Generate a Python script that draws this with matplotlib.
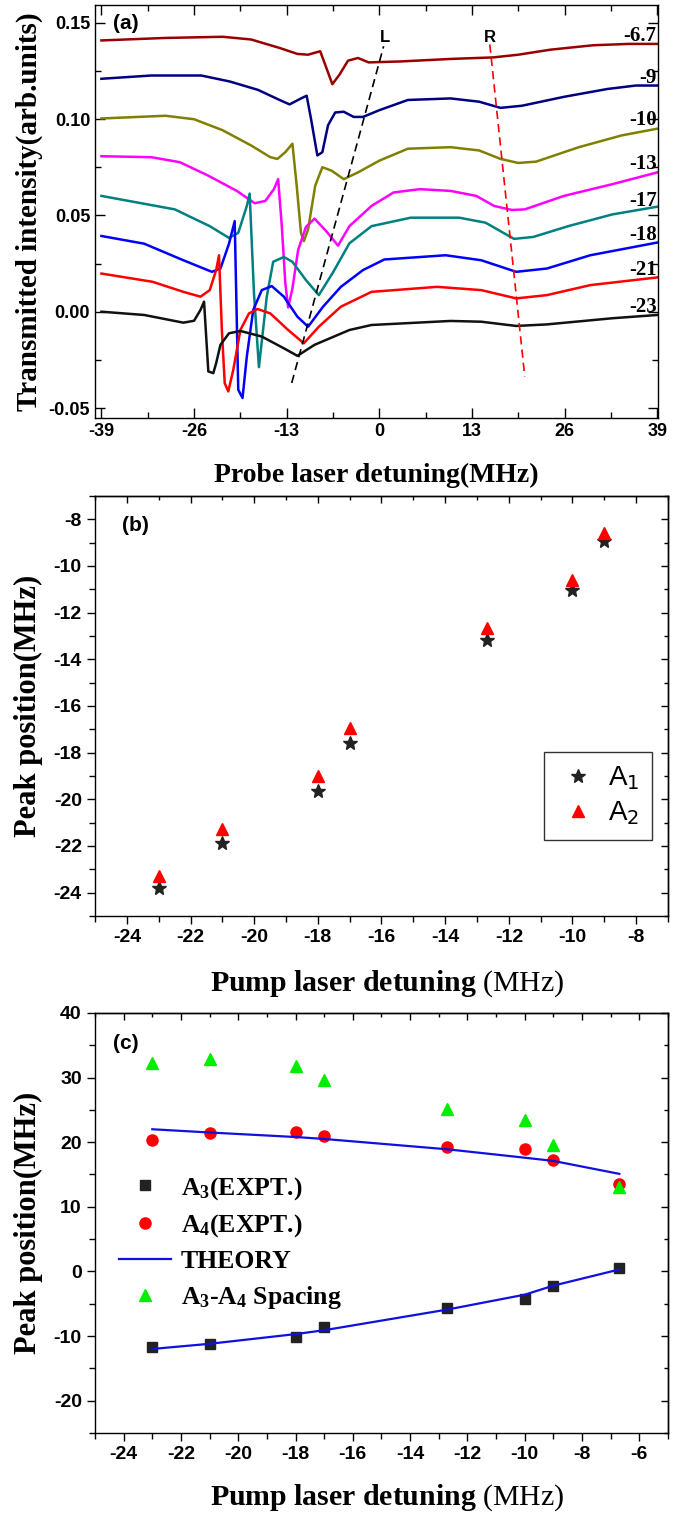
import matplotlib
matplotlib.use("Agg")
import matplotlib.pyplot as plt
from matplotlib.ticker import MultipleLocator, FormatStrFormatter

plt.rcParams["axes.unicode_minus"] = False
plt.rcParams["mathtext.fontset"] = "custom"
plt.rcParams["mathtext.rm"] = "Liberation Serif"
plt.rcParams["mathtext.bf"] = "Liberation Serif:bold"
plt.rcParams["mathtext.it"] = "Liberation Serif:italic"

SANS = "Liberation Sans"
SERIF = "Liberation Serif"

# ---------------- panel (a): probe transmission for each pump detuning ----------------
pump_labels = ["-6.7", "-9", "-10", "-13", "-17", "-18", "-21", "-23"]
trace_colors = ["#990000", "#000080", "#808000", "#ff00ff",
                "#008080", "#0000ff", "#ff0000", "#111111"]
label_y = [0.1431, 0.1211, 0.0994, 0.0767, 0.0575, 0.0397, 0.0216, 0.0026]

x_m67 = [-39, -30, -22, -18, -14, -11.5, -10, -8.3, -7.6, -6.6, -5.6, -4.4, -3.0, -1.5,
         3, 10, 16, 19.5, 24, 30, 35, 39]
y_m67 = [0.1408, 0.1421, 0.1427, 0.1413, 0.1369, 0.1338, 0.1334, 0.1352, 0.1282, 0.1181,
         0.1230, 0.1303, 0.1317, 0.1294, 0.1299, 0.1312, 0.1320, 0.1334, 0.1360, 0.1383,
         0.1390, 0.1390]

x_m9 = [-39, -32, -25, -21, -17, -14, -12.6, -11, -10.2, -9.6, -8.7, -8.0, -7.2, -6.2, -5.0,
        -3.6, -2.3, 0, 4, 10, 14, 17, 20, 26, 32, 36, 39]
y_m9 = [0.1209, 0.1226, 0.1226, 0.1195, 0.1151, 0.1099, 0.1076, 0.1107, 0.1121, 0.1003,
        0.0811, 0.0828, 0.0968, 0.1034, 0.1038, 0.1011, 0.1011, 0.1046, 0.1099, 0.1107,
        0.1090, 0.1058, 0.1069, 0.1116, 0.1156, 0.1174, 0.1174]

x_m10 = [-39, -30, -26, -22, -18, -15.3, -14.3, -13.2, -12.2, -11.6, -11, -10.6, -10, -9,
         -8, -6.7, -5, -3, 0, 4, 10, 14, 17, 19.5, 22, 28, 34, 39]
y_m10 = [0.1003, 0.1017, 0.0999, 0.0942, 0.0863, 0.0802, 0.0793, 0.0828, 0.0872, 0.0654,
         0.0409, 0.0366, 0.0427, 0.0654, 0.0750, 0.0732, 0.0688, 0.0723, 0.0784, 0.0846,
         0.0854, 0.0837, 0.0793, 0.0772, 0.0779, 0.0854, 0.0915, 0.0950]

x_m13 = [-39, -32, -28, -24, -20, -17.5, -16, -14.8, -14.2, -13.7, -13.2, -12.8, -12.2,
         -11.4, -10.3, -9.1, -7.5, -5.8, -4.2, -1.1, 2, 5.7, 10, 13.6, 16.1, 18.6, 20.4,
         25.9, 32.7, 39]
y_m13 = [0.0807, 0.0802, 0.0776, 0.0706, 0.0627, 0.0563, 0.0575, 0.0636, 0.0688, 0.0450,
         0.0150, 0.0022, 0.0120, 0.0320, 0.0440, 0.0483, 0.0420, 0.0343, 0.0444, 0.0549,
         0.0619, 0.0636, 0.0627, 0.0601, 0.0549, 0.0528, 0.0531, 0.0601, 0.0662, 0.0723]

x_m17 = [-39, -28.7, -23.8, -21.1, -19.8, -18.6, -18.2, -17.6, -16.9, -15.8, -14.9, -13.4,
         -12.2, -10.3, -8.5, -6.6, -4.2, -1.1, 4.4, 11.2, 14.9, 18.9, 21.6, 26.5, 32.7, 39]
y_m17 = [0.0601, 0.0531, 0.0444, 0.0383, 0.0409, 0.0549, 0.0613, 0.0100, -0.0288, 0.0078,
         0.0259, 0.0284, 0.0259, 0.0164, 0.0086, 0.0198, 0.0355, 0.0444, 0.0488, 0.0488,
         0.0462, 0.0378, 0.0388, 0.0444, 0.0505, 0.0545]

x_m18 = [-39, -33, -27.5, -23.5, -22.3, -21.1, -20.3, -19.8, -19.2, -18.6, -17.7, -16.5,
         -15.1, -13.4, -11.5, -10, -7.9, -5.4, -2.3, 0.7, 9.3, 14.3, 19.2, 23.5, 29.6, 39]
y_m18 = [0.0393, 0.0353, 0.0267, 0.0207, 0.0224, 0.0353, 0.0470, -0.0405, -0.0448, -0.0233,
         0.0009, 0.0112, 0.0133, 0.0078, -0.0026, -0.0078, 0.0026, 0.0129, 0.0216, 0.0271,
         0.0293, 0.0267, 0.0207, 0.0224, 0.0293, 0.0359]

x_m21 = [-39, -31.8, -27.5, -25.1, -23.8, -22.9, -22.5, -22.1, -21.7, -21.2, -20.5, -19.5,
         -18.3, -17.1, -15.3, -12.8, -10.6, -8.5, -5.4, -1.1, 8.1, 14.3, 19.2, 23.5, 29.6, 39]
y_m21 = [0.0198, 0.0155, 0.0103, 0.0078, 0.0112, 0.0216, 0.0293, -0.0095, -0.0371, -0.0414,
         -0.0302, -0.0095, -0.0009, 0.0014, -0.0009, -0.0095, -0.0164, -0.0078, 0.0026,
         0.0103, 0.0129, 0.0112, 0.0069, 0.0086, 0.0138, 0.0178]

x_m23 = [-39, -33, -27.5, -26, -25.1, -24.6, -24.3, -24.0, -23.3, -22.9, -22.3, -21.1, -19.5,
         -16.5, -13.4, -11.5, -9.1, -4.2, -1.1, 10, 14.3, 19.2, 23.5, 32.7, 39]
y_m23 = [0.0, -0.0017, -0.0057, -0.0047, 0.0009, 0.0052, -0.0129, -0.0310, -0.0319, -0.0267,
         -0.0172, -0.0112, -0.0100, -0.0129, -0.0190, -0.0229, -0.0172, -0.0095, -0.0069,
         -0.0048, -0.0052, -0.0074, -0.0066, -0.0034, -0.0017]

traces_x = [x_m67, x_m9, x_m10, x_m13, x_m17, x_m18, x_m21, x_m23]
traces_y = [y_m67, y_m9, y_m10, y_m13, y_m17, y_m18, y_m21, y_m23]

# guide lines through the L and R features
line_L_x = [-12.3, 0.6]
line_L_y = [-0.037, 0.1378]
line_R_x = [15.5, 20.4]
line_R_y = [0.1387, -0.0336]

# ---------------- panel (b): A1 / A2 peak positions ----------------
pump_b = [-23, -21, -18, -17, -12.7, -10, -9]
a1_peak = [-23.82, -21.89, -19.65, -17.6, -13.18, -11.04, -8.95]
a2_peak = [-23.29, -21.29, -19.0, -16.94, -12.64, -10.61, -8.57]

# ---------------- panel (c): A3 / A4 peak positions ----------------
pump_c = [-23, -21, -18, -17, -12.7, -10, -9, -6.7]
a3_peak = [-11.7, -11.2, -10.1, -8.6, -5.6, -4.3, -2.3, 0.6]
a4_peak = [20.3, 21.4, 21.6, 20.9, 19.3, 18.9, 17.2, 13.5]
spacing = [32.2, 32.8, 31.8, 29.7, 25.1, 23.4, 19.6, 13.0]
theory_a4 = [22.0, 21.5, 20.8, 20.5, 18.9, 17.6, 17.1, 15.1]
theory_a3 = [-12.0, -11.2, -9.7, -9.1, -5.9, -3.6, -2.2, 0.3]


def style_ticks(ax, size):
    for lab in ax.get_xticklabels() + ax.get_yticklabels():
        lab.set_fontfamily(SANS)
        lab.set_fontweight("bold")
        lab.set_fontsize(size)
    for sp in ax.spines.values():
        sp.set_linewidth(1.0)


fig = plt.figure(figsize=(6.87, 15.13), dpi=100)

# ---- (a) ----
ax1 = fig.add_axes([0.1383, 0.7237, 0.8195, 0.2730])
for xs, ys, c in zip(traces_x, traces_y, trace_colors):
    ax1.plot(xs, ys, color=c, lw=1.8)
for lab, ly in zip(pump_labels, label_y):
    ax1.text(38.9, ly, lab, ha="right", va="center", family=SERIF,
             weight="bold", fontsize=15)
ax1.plot(line_L_x, line_L_y, ls=(0, (5, 3)), color="black", lw=1.2)
ax1.plot(line_R_x, line_R_y, ls=(0, (5, 3)), color="red", lw=1.2)
ax1.text(line_L_x[1] + 0.2, 0.1425, "L", ha="center", va="center", family=SANS,
         weight="bold", fontsize=12)
ax1.text(line_R_x[0], 0.1425, "R", ha="center", va="center", family=SANS,
         weight="bold", fontsize=12)
ax1.text(0.032, 0.978, "(a)", transform=ax1.transAxes, ha="left", va="top",
         family=SANS, weight="bold", fontsize=15)
ax1.set_xlim(-39.9, 39.1)
ax1.set_ylim(-0.0552, 0.1592)
ax1.xaxis.set_major_locator(MultipleLocator(13))
ax1.xaxis.set_minor_locator(MultipleLocator(6.5))
ax1.yaxis.set_major_locator(MultipleLocator(0.05))
ax1.yaxis.set_minor_locator(MultipleLocator(0.025))
ax1.yaxis.set_major_formatter(FormatStrFormatter("%.2f"))
ax1.tick_params(which="both", direction="in", top=True, right=True, width=1.0)
ax1.tick_params(which="major", length=7)
ax1.tick_params(which="minor", length=4)
ax1.set_xlabel("Probe laser detuning(MHz)", family=SERIF, weight="bold", fontsize=20)
ax1.set_ylabel("Transmitted intensity(arb.units)", family=SERIF, weight="bold", fontsize=21)
ax1.xaxis.set_label_coords(0.5, -0.109)
ax1.yaxis.set_label_coords(-0.092, 0.5)
style_ticks(ax1, 13)


def inward_twins(ax, xmaj, xmin, ymaj, ymin):
    top = ax.secondary_xaxis("top")
    top.xaxis.set_major_locator(MultipleLocator(xmaj))
    top.xaxis.set_minor_locator(MultipleLocator(xmin))
    top.tick_params(which="both", direction="in", labeltop=False, width=1.0)
    top.tick_params(which="major", length=5)
    top.tick_params(which="minor", length=3)
    right = ax.secondary_yaxis("right")
    right.yaxis.set_major_locator(MultipleLocator(ymaj))
    right.yaxis.set_minor_locator(MultipleLocator(ymin))
    right.tick_params(which="both", direction="in", labelright=False, width=1.0)
    right.tick_params(which="major", length=5)
    right.tick_params(which="minor", length=3)
    for sec in (top, right):
        for sp in sec.spines.values():
            sp.set_linewidth(1.0)


xlabel_pump = r"$\mathbf{Pump\ laser\ detuning}\ \mathrm{(MHz)}$"

# ---- (b) ----
ax2 = fig.add_axes([0.1383, 0.3946, 0.8340, 0.2776])
ax2.plot(pump_b, a1_peak, ls="none", marker="*", ms=10, color="#222222", label="A$_1$")
ax2.plot(pump_b, a2_peak, ls="none", marker="^", ms=9, color="red", mec="red", label="A$_2$")
ax2.set_xlim(-25, -7)
ax2.set_ylim(-25, -7)
ax2.xaxis.set_major_locator(MultipleLocator(2))
ax2.xaxis.set_minor_locator(MultipleLocator(1))
ax2.yaxis.set_major_locator(MultipleLocator(2))
ax2.yaxis.set_minor_locator(MultipleLocator(1))
ax2.tick_params(which="both", direction="out", width=1.0)
ax2.tick_params(which="major", length=6)
ax2.tick_params(which="minor", length=4)
inward_twins(ax2, 2, 1, 2, 1)
ax2.text(0.047, 0.952, "(b)", transform=ax2.transAxes, ha="left", va="top",
         family=SANS, weight="bold", fontsize=15)
leg2 = ax2.legend(loc="upper left", bbox_to_anchor=(0.784, 0.39), fancybox=False,
                  edgecolor="#333333", framealpha=1, handlelength=1.5, handletextpad=0.35,
                  borderpad=0.45, labelspacing=0.25, borderaxespad=0,
                  prop={"family": SANS, "size": 20})
leg2.get_frame().set_linewidth(1.0)
for t in leg2.get_texts():
    t.set_math_fontfamily("dejavusans")
ax2.set_xlabel(xlabel_pump, fontsize=21.5)
ax2.set_ylabel("Peak position(MHz)", family=SERIF, weight="bold", fontsize=22)
ax2.xaxis.set_label_coords(0.51, -0.124)
ax2.yaxis.set_label_coords(-0.091, 0.5)
style_ticks(ax2, 14)

# ---- (c) ----
ax3 = fig.add_axes([0.1383, 0.0529, 0.8340, 0.2776])
h_a3, = ax3.plot(pump_c, a3_peak, ls="none", marker="s", ms=7, color="#222222")
h_a4, = ax3.plot(pump_c, a4_peak, ls="none", marker="o", ms=8, color="red")
h_th, = ax3.plot(pump_c, theory_a4, color="#1010e0", lw=1.6)
ax3.plot(pump_c, theory_a3, color="#1010e0", lw=1.6)
h_sp, = ax3.plot(pump_c, spacing, ls="none", marker="^", ms=9, color="#00ee00")
ax3.set_xlim(-25, -5)
ax3.set_ylim(-25, 40)
ax3.xaxis.set_major_locator(MultipleLocator(2))
ax3.xaxis.set_minor_locator(MultipleLocator(1))
ax3.yaxis.set_major_locator(MultipleLocator(10))
ax3.yaxis.set_minor_locator(MultipleLocator(5))
ax3.tick_params(which="both", direction="out", width=1.0)
ax3.tick_params(which="major", length=6)
ax3.tick_params(which="minor", length=4)
inward_twins(ax3, 2, 1, 10, 5)
ax3.text(0.032, 0.95, "(c)", transform=ax3.transAxes, ha="left", va="top",
         family=SANS, weight="bold", fontsize=15)
ax3.legend([h_a3, h_a4, h_th, h_sp],
           [r"A$_\mathbf{3}$(EXPT.)", r"A$_\mathbf{4}$(EXPT.)", "THEORY",
            r"A$_\mathbf{3}$-A$_\mathbf{4}$ Spacing"],
           loc="upper left", bbox_to_anchor=(0.02, 0.645), frameon=False,
           handlelength=2.0, handletextpad=0.4, borderpad=0, labelspacing=0.42,
           prop={"family": SERIF, "weight": "bold", "size": 18.5})
ax3.set_xlabel(xlabel_pump, fontsize=21.5)
ax3.set_ylabel("Peak position(MHz)", family=SERIF, weight="bold", fontsize=22)
ax3.xaxis.set_label_coords(0.51, -0.117)
ax3.yaxis.set_label_coords(-0.091, 0.5)
style_ticks(ax3, 14)

fig.savefig("out.png", dpi=100)
